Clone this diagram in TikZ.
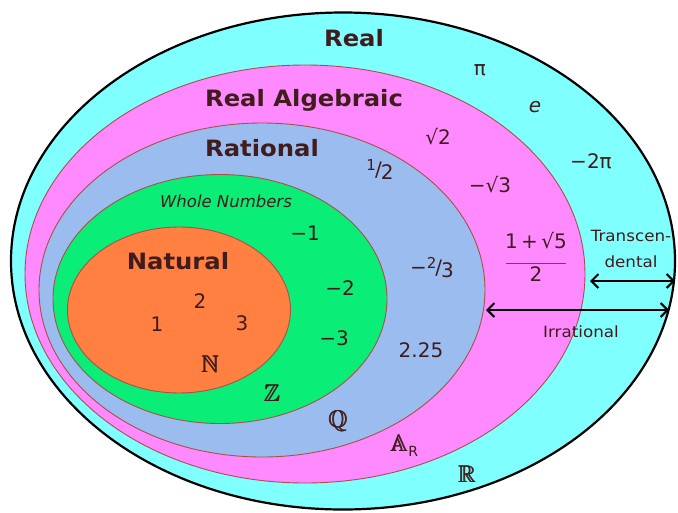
\documentclass[tikz,border=0pt]{standalone}
\usepackage{amssymb}
\usepackage{fontspec}
\setmainfont{DejaVu Sans}
\newfontfamily\widefont{DejaVu Sans}[FakeStretch=1.08]
\usetikzlibrary{arrows.meta,shapes.geometric}
\definecolor{realfill}{RGB}{128,255,255}
\definecolor{algfill}{RGB}{255,138,255}
\definecolor{ratfill}{RGB}{155,188,238}
\definecolor{wholefill}{RGB}{10,238,120}
\definecolor{natfill}{RGB}{255,128,64}
\definecolor{rim}{RGB}{170,80,70}
\definecolor{ink}{RGB}{64,28,28}
\newcommand\bbx[1]{\rlap{$\mathbb{#1}$}\kern0.5pt\rlap{$\mathbb{#1}$}\kern0.5pt$\mathbb{#1}$}
\newcommand\slfrac[2]{\raisebox{6pt}{\fontsize{15}{16}\selectfont #1}\kern-1pt/\kern-1pt\raisebox{-3pt}{#2}}
\tikzset{
  set/.style={ellipse,draw=rim,line width=0.9pt,inner sep=0pt},
  title/.style={font=\widefont\fontsize{22.5}{26}\selectfont\bfseries,text=ink},
  num/.style={font=\fontsize{20}{22}\selectfont,text=ink},
  sym/.style={font=\fontsize{24}{26}\selectfont,text=ink},
  note/.style={font=\widefont\fontsize{15.5}{26}\selectfont,text=ink,align=center},
  span/.style={{Straight Barb[length=7pt,width=14pt]}-{Straight Barb[length=7pt,width=14pt]},line width=2pt,black},
}
\begin{document}
\begin{tikzpicture}[x=1pt,y=-1pt]
\useasboundingbox (0,0) rectangle (678,512);
\node[set,draw=black,line width=2.2pt,fill=realfill,minimum width=664pt,minimum height=497pt] (real) at (343,261) {};
\node[set,fill=algfill,minimum width=560pt,minimum height=418pt] (alg) at (305,274) {};
\node[set,fill=ratfill,minimum width=446pt,minimum height=334pt] (rat) at (262,290) {};
\node[set,fill=wholefill,minimum width=334pt,minimum height=249pt] (whole) at (220,299) {};
\node[set,fill=natfill,minimum width=223pt,minimum height=166pt] (nat) at (179,310) {};
\node[title] (realt) at (354,38) {Real};
\node[title] (algt) at (304,100) {Real Algebraic};
\node[title] (ratt) at (262,148) {Rational};
\node[font=\fontsize{16.5}{18}\selectfont\itshape,text=ink] (wholet) at (226,201) {Whole Numbers};
\node[title] (natt) at (178,261) {Natural};
\node[num] (pi) at (480,70) {π};
\node[num] (e) at (535,107) {\itshape e};
\node[num] (rt2) at (438,137) {√2};
\node[num] (m2pi) at (591,161) {−2π};
\node[num] (mrt3) at (490,185) {−√3};
\node[num] (half) at (380,170) {\slfrac{1}{2}};
\node[num] (m1) at (305,233) {−1};
\node[num] (m2) at (340,288) {−2};
\node[num] (m3) at (334,338) {−3};
\node[num] (m23) at (432,268) {−\slfrac{2}{3}};
\node[num] (dec) at (421,350) {2.25};
\node[num] (phi) at (536,260) {\begin{tabular}{@{}c@{}}1\,+\,√5\\[-6pt]\textcolor{ink!80}{\rule{60pt}{1.6pt}}\\[-5pt]2\end{tabular}};
\node[num] (one) at (157,324) {1};
\node[num] (two) at (200,301) {2};
\node[num] (three) at (242,323) {3};
\node[sym] (nn) at (210,364) {\bbx{N}};
\node[sym] (zz) at (272,393) {\bbx{Z}};
\node[sym] (qq) at (338,421) {\bbx{Q}};
\node[sym] (aa) at (404,446) {\bbx{A}\raisebox{-5pt}{\fontsize{14}{16}\selectfont R}};
\node[sym] (rr) at (467,474) {\bbx{R}};
\node[note] (trans) at (631,249) {Transcen-\\dental};
\node[note] (irr) at (581,332) {Irrational};
\coordinate (t0) at (590,281);
\coordinate (t1) at (675,281);
\coordinate (i0) at (486,310);
\coordinate (i1) at (669,310);
\draw[span] (t0) -- (t1);
\draw[span] (i0) -- (i1);
\end{tikzpicture}
\end{document}
